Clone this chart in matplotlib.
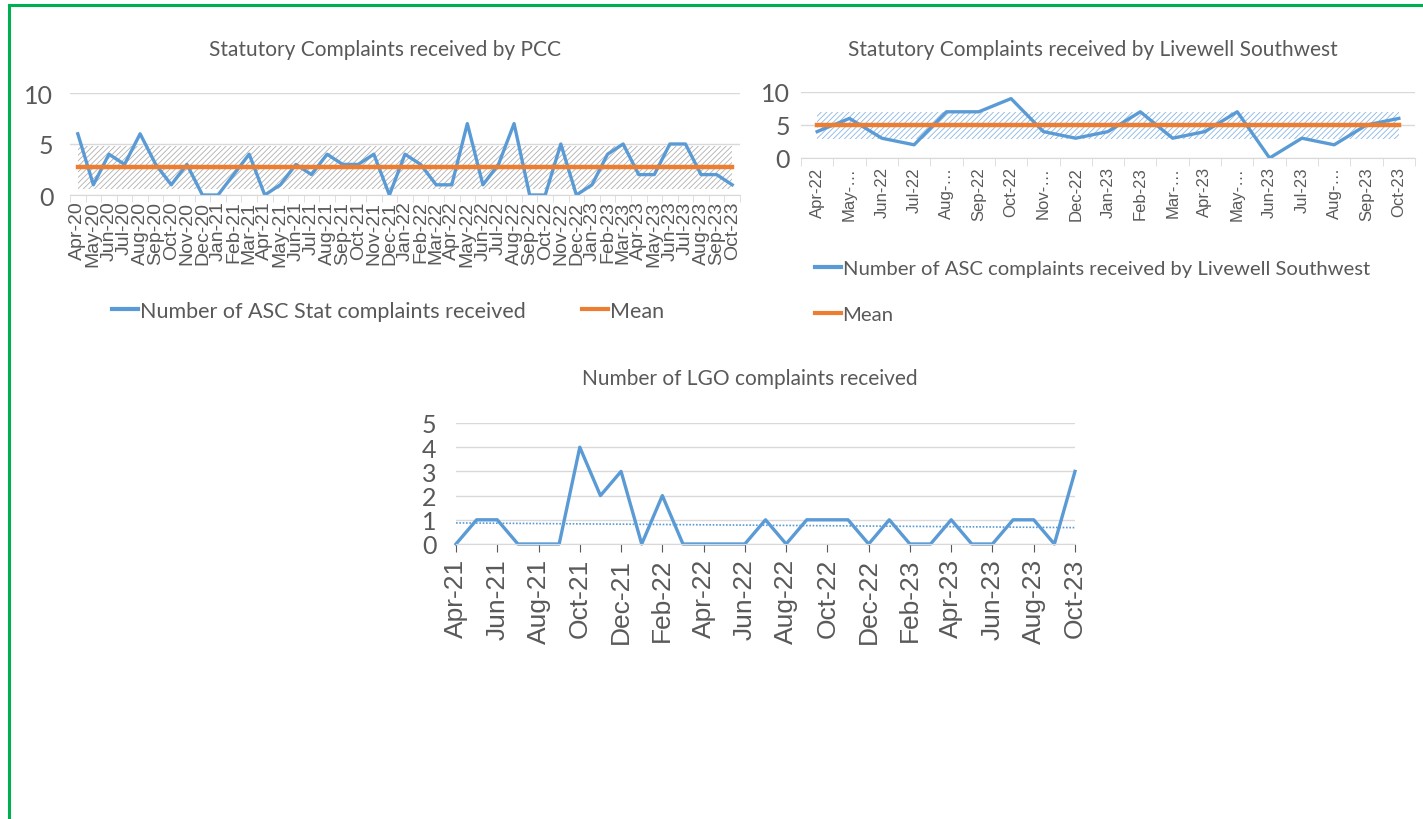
import numpy as np
import matplotlib
matplotlib.use("Agg")
import matplotlib.pyplot as plt
from matplotlib.lines import Line2D

# ---- data ----
pcc_months = ["Apr-20", "May-20", "Jun-20", "Jul-20", "Aug-20", "Sep-20", "Oct-20", "Nov-20", "Dec-20",
              "Jan-21", "Feb-21", "Mar-21", "Apr-21", "May-21", "Jun-21", "Jul-21", "Aug-21", "Sep-21",
              "Oct-21", "Nov-21", "Dec-21", "Jan-22", "Feb-22", "Mar-22", "Apr-22", "May-22", "Jun-22",
              "Jul-22", "Aug-22", "Sep-22", "Oct-22", "Nov-22", "Dec-22", "Jan-23", "Feb-23", "Mar-23",
              "Apr-23", "May-23", "Jun-23", "Jul-23", "Aug-23", "Sep-23", "Oct-23"]
pcc_values = [6, 1, 4, 3, 6, 3, 1, 3, 0,
              0, 2, 4, 0, 1, 3, 2, 4, 3, 3, 4, 0,
              4, 3, 1, 1, 7, 1, 3, 7, 0, 0, 5, 0,
              1, 4, 5, 2, 2, 5, 5, 2, 2, 1]
pcc_mean = 2.7
pcc_band = (0.6, 4.8)

lw_months = ["Apr-22", "May-…", "Jun-22", "Jul-22", "Aug-…", "Sep-22", "Oct-22", "Nov-…", "Dec-22",
             "Jan-23", "Feb-23", "Mar-…", "Apr-23", "May-…", "Jun-23", "Jul-23", "Aug-…", "Sep-23", "Oct-23"]
lw_values = [4, 6, 3, 2, 7, 7, 9, 4, 3, 4, 7, 3, 4, 7, 0, 3, 2, 5, 6]
lw_mean = 5
lw_band = (2.85, 7.0)

lgo_months = ["Apr-21", "May-21", "Jun-21", "Jul-21", "Aug-21", "Sep-21", "Oct-21", "Nov-21", "Dec-21",
              "Jan-22", "Feb-22", "Mar-22", "Apr-22", "May-22", "Jun-22", "Jul-22", "Aug-22", "Sep-22",
              "Oct-22", "Nov-22", "Dec-22", "Jan-23", "Feb-23", "Mar-23", "Apr-23", "May-23", "Jun-23",
              "Jul-23", "Aug-23", "Sep-23", "Oct-23"]
lgo_values = [0, 1, 1, 0, 0, 0, 4, 2, 3,
              0, 2, 0, 0, 0, 0, 1, 0, 1, 1, 1, 0,
              1, 0, 0, 1, 0, 0, 1, 1, 0, 3]

BLUE = "#5B9BD5"
ORANGE = "#ED7D31"
GREY = "#595959"
GRID = "#D9D9D9"
TICKFONT = ["Liberation Sans", "DejaVu Sans"]

plt.rcParams["font.family"] = ["Lato", "DejaVu Sans"]
plt.rcParams["hatch.linewidth"] = 0.6

fig = plt.figure(figsize=(14.23, 8.2), dpi=100)

# green frame (top and left only visible)
fig.add_artist(Line2D([9 / 1423, 9 / 1423], [0, 1 - 6 / 820], color="#00B050", lw=2.2))
fig.add_artist(Line2D([9 / 1423, 1], [1 - 6 / 820, 1 - 6 / 820], color="#00B050", lw=2.2))


def style_axes(ax):
    for s in ["top", "right", "left"]:
        ax.spines[s].set_visible(False)
    ax.spines["bottom"].set_color(GRID)
    ax.yaxis.grid(True, color=GRID, lw=1)
    ax.set_axisbelow(True)
    ax.tick_params(axis="y", length=0, colors=GREY)
    ax.tick_params(axis="x", colors=GREY)


# ---- PCC ----
ax1 = fig.add_axes([70 / 1423, 1 - 196 / 820, 670 / 1423, 102 / 820])
x1 = np.arange(len(pcc_values))
ax1.fill_between([x1[0], x1[-1]], pcc_band[0], pcc_band[1], facecolor="white",
                 edgecolor="#AFAFAF", hatch="//////", lw=0)
ax1.plot(x1, pcc_values, color=BLUE, lw=2.4)
ax1.plot([x1[0], x1[-1]], [pcc_mean, pcc_mean], color=ORANGE, lw=3.2)
ax1.set_xlim(-0.5, len(x1) - 0.5)
ax1.set_ylim(0, 10)
ax1.set_yticks([0, 5, 10])
ax1.set_xticks(x1)
ax1.set_xticklabels(pcc_months, rotation=90, fontsize=14, family=TICKFONT)
ax1.set_xticks(np.arange(-0.5, len(x1)), minor=True)
ax1.tick_params(axis="x", which="major", length=0, pad=4)
ax1.tick_params(axis="x", which="minor", length=5, color=GRID)
style_axes(ax1)
ax1.tick_params(axis="y", labelsize=18, pad=12)
fig.text(385 / 1423, 1 - 50 / 820, "Statutory Complaints received by PCC", ha="center", va="center",
         fontsize=15, color=GREY)
fig.legend(handles=[Line2D([], [], color=BLUE, lw=3), Line2D([], [], color=ORANGE, lw=3)],
           labels=["Number of ASC Stat complaints received", "Mean"],
           loc="center", bbox_to_anchor=(388 / 1423, 1 - 312 / 820), ncol=2, frameon=False,
           fontsize=15.5, labelcolor=GREY, handlelength=1.2, handletextpad=0.1, columnspacing=2.6)

# ---- Livewell ----
ax2 = fig.add_axes([801 / 1423, 1 - 159 / 820, 614 / 1423, 66 / 820])
x2 = np.arange(len(lw_values))
ax2.fill_between([x2[0], x2[-1]], lw_band[0], lw_band[1], facecolor="white",
                 edgecolor="#8AB6E2", hatch="//////", lw=0)
ax2.plot(x2, lw_values, color=BLUE, lw=2.4)
ax2.plot([x2[0], x2[-1]], [lw_mean, lw_mean], color=ORANGE, lw=3.2)
ax2.set_xlim(-0.5, len(x2) - 0.5)
ax2.set_ylim(0, 10)
ax2.set_yticks([0, 5, 10])
ax2.set_xticks(x2)
ax2.set_xticklabels(lw_months, rotation=90, fontsize=12, family=TICKFONT)
ax2.set_xticks(np.arange(-0.5, len(x2)), minor=True)
ax2.tick_params(axis="x", which="major", length=0, pad=6)
ax2.tick_params(axis="x", which="minor", length=6, color=GRID)
style_axes(ax2)
ax2.tick_params(axis="y", labelsize=18, pad=8)
fig.text(1093 / 1423, 1 - 50 / 820, "Statutory Complaints received by Livewell Southwest",
         ha="center", va="center", fontsize=15, color=GREY)
fig.legend(handles=[Line2D([], [], color=BLUE, lw=3), Line2D([], [], color=ORANGE, lw=3)],
           labels=["Number of ASC complaints received by Livewell Southwest", "Mean"],
           loc="upper left", bbox_to_anchor=(797 / 1423, 1 - 243 / 820), ncol=1, frameon=False,
           fontsize=14.6, labelcolor=GREY, handlelength=1.25, handletextpad=0.1, labelspacing=1.4)

# ---- LGO ----
ax3 = fig.add_axes([456 / 1423, 1 - 545 / 820, 619 / 1423, 121 / 820])
x3 = np.arange(len(lgo_values))
ax3.plot(x3, lgo_values, color=BLUE, lw=2.4, clip_on=False)
slope, icpt = np.polyfit(x3, lgo_values, 1)
ax3.plot(x3, slope * x3 + icpt, color=BLUE, lw=1.2, ls=(0, (1, 1)))
ax3.set_xlim(0, len(x3) - 1)
ax3.set_ylim(0, 5)
ax3.set_yticks(range(6))
ax3.set_xticks(x3[::2])
ax3.set_xticklabels(lgo_months[::2], rotation=90, fontsize=19, family=TICKFONT)
ax3.tick_params(axis="x", length=6, color=GRID, pad=4)
style_axes(ax3)
ax3.tick_params(axis="y", labelsize=18, pad=14)
fig.text(750 / 1423, 1 - 379 / 820, "Number of LGO complaints received", ha="center", va="center",
         fontsize=15, color=GREY)

fig.savefig("out.png", dpi=100, facecolor="white")
